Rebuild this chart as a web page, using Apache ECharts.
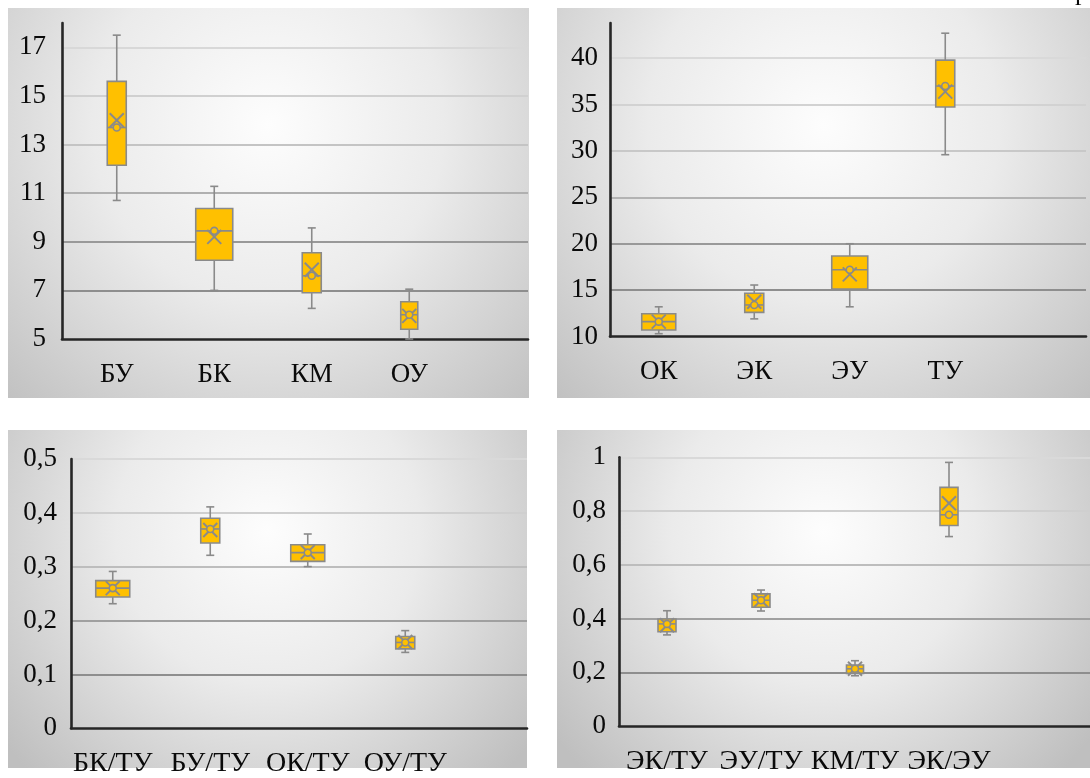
<!DOCTYPE html>
<html>
<head>
<meta charset="utf-8">
<script src="https://cdn.jsdelivr.net/npm/echarts@6/dist/echarts.min.js"></script>
<style>
  html, body { margin: 0; padding: 0; background: #ffffff; }
  #chart { width: 1090px; height: 778px; }
</style>
</head>
<body>
<div id="chart"></div>
<script>
// ---------------- DATA ----------------
// Panel 1 (top-left)
const p1Categories = ['БУ', 'БК', 'КМ', 'ОУ'];
const p1Min    = [10.7, 7.0, 6.26, 5.0];
const p1Q1     = [12.15, 8.24, 6.9, 5.4];
const p1Median = [13.7, 9.45, 7.6, 6.0];
const p1Q3     = [15.6, 10.37, 8.55, 6.53];
const p1Max    = [17.5, 11.28, 9.57, 7.05];
const p1Mean   = [14.0, 9.2, 7.85, 5.95];
const p1Ticks  = [5, 7, 9, 11, 13, 15, 17];

// Panel 2 (top-right)
const p2Categories = ['ОК', 'ЭК', 'ЭУ', 'ТУ'];
const p2Min    = [10.3, 11.9, 13.2, 29.6];
const p2Q1     = [10.7, 12.6, 15.12, 34.75];
const p2Median = [11.6, 13.4, 17.2, 37.0];
const p2Q3     = [12.45, 14.66, 18.68, 39.8];
const p2Max    = [13.2, 15.55, 20.0, 42.7];
const p2Mean   = [11.6, 13.75, 16.7, 36.4];
const p2Ticks  = [10, 15, 20, 25, 30, 35, 40];

// Panel 3 (bottom-left)
const p3Categories = ['БК/ТУ', 'БУ/ТУ', 'ОК/ТУ', 'ОУ/ТУ'];
const p3Min    = [0.231, 0.321, 0.300, 0.1405];
const p3Q1     = [0.2435, 0.344, 0.3097, 0.147];
const p3Median = [0.260, 0.370, 0.326, 0.159];
const p3Q3     = [0.274, 0.390, 0.3407, 0.170];
const p3Max    = [0.291, 0.411, 0.3606, 0.181];
const p3Mean   = [0.260, 0.368, 0.327, 0.160];
const p3Ticks  = [0, 0.1, 0.2, 0.3, 0.4, 0.5];

// Panel 4 (bottom-right)
const p4Categories = ['ЭК/ТУ', 'ЭУ/ТУ', 'КМ/ТУ', 'ЭК/ЭУ'];
const p4Min    = [0.339, 0.428, 0.187, 0.705];
const p4Q1     = [0.351, 0.442, 0.196, 0.746];
const p4Median = [0.380, 0.468, 0.213, 0.786];
const p4Q3     = [0.398, 0.4916, 0.227, 0.888];
const p4Max    = [0.429, 0.506, 0.243, 0.981];
const p4Mean   = [0.375, 0.468, 0.213, 0.829];
const p4Ticks  = [0, 0.2, 0.4, 0.6, 0.8, 1];

// ---------------- STYLE / LAYOUT ----------------
const FONT = 'Liberation Serif';
const TEXT = '#0a0a0a';
const GOLD = '#FFC000';
const EDGE = '#8a8a8a';
const AXIS = '#262626';

const panels = [
  { cats: p1Categories, min: p1Min, q1: p1Q1, med: p1Median, q3: p1Q3, max: p1Max, mean: p1Mean, ticks: p1Ticks,
    yMin: 5, yMax: 18,
    rect: [8, 8, 521, 390], axisLeft: 62, top: 23, bottom: 339, right: 528,
    bandLeft: 68, band: 97.5, boxW: [19, 37, 19, 17],
    yMargin: 16, xMargin: 22, xFont: 27,
    lineColors: ['#8e8e8e', '#999999', '#b0b0b0', '#c4c4c4', '#d0d0d0', '#d8d8d8'] },
  { cats: p2Categories, min: p2Min, q1: p2Q1, med: p2Median, q3: p2Q3, max: p2Max, mean: p2Mean, ticks: p2Ticks,
    yMin: 10, yMax: 43.8,
    rect: [557, 8, 533, 390], axisLeft: 610, top: 23, bottom: 336.5, right: 1086,
    bandLeft: 611, band: 95.5, boxW: [34, 19, 36, 19],
    yMargin: 12, xMargin: 22, xFont: 27,
    lineColors: ['#8e8e8e', '#999999', '#b3b3b3', '#c8c8c8', '#d2d2d2', '#d9d9d9'] },
  { cats: p3Categories, min: p3Min, q1: p3Q1, med: p3Median, q3: p3Q3, max: p3Max, mean: p3Mean, ticks: p3Ticks,
    yMin: 0, yMax: 0.5,
    rect: [8, 430, 519, 338], axisLeft: 71, top: 459, bottom: 728.3, right: 527,
    bandLeft: 64, band: 97.5, boxW: [34, 19, 34, 19],
    yMargin: 14, xMargin: 22, xFont: 28,
    lineColors: ['#8e8e8e', '#a0a0a0', '#bdbdbd', '#cfcfcf', '#d9d9d9'] },
  { cats: p4Categories, min: p4Min, q1: p4Q1, med: p4Median, q3: p4Q3, max: p4Max, mean: p4Mean, ticks: p4Ticks,
    yMin: 0, yMax: 1,
    rect: [557, 430, 533, 338], axisLeft: 619, top: 457.3, bottom: 726, right: 1090,
    bandLeft: 620, band: 94, boxW: [18, 18, 17, 18],
    yMargin: 13, xMargin: 22, xFont: 28,
    lineColors: ['#8e8e8e', '#a0a0a0', '#bdbdbd', '#cfcfcf', '#d9d9d9'] }
];

function fmt(v) { return String(v).replace('.', ','); }

function makeRenderItem(boxW) {
  return function (params, api) {
    const i = api.value(0);
    const pMin = api.coord([i, api.value(1)]);
    const x = pMin[0];
    const yMin = pMin[1];
    const yQ1 = api.coord([i, api.value(2)])[1];
    const yMed = api.coord([i, api.value(3)])[1];
    const yQ3 = api.coord([i, api.value(4)])[1];
    const yMax = api.coord([i, api.value(5)])[1];
    const yMean = api.coord([i, api.value(6)])[1];
    const w = boxW[i];
    const h = w / 2;
    const cap = 4;
    const xs = 7;
    const ls = { stroke: EDGE, lineWidth: 1.6 };
    return {
      type: 'group',
      children: [
        { type: 'line', shape: { x1: x, y1: yMax, x2: x, y2: yQ3 }, style: ls },
        { type: 'line', shape: { x1: x, y1: yQ1, x2: x, y2: yMin }, style: ls },
        { type: 'line', shape: { x1: x - cap, y1: yMax, x2: x + cap, y2: yMax }, style: ls },
        { type: 'line', shape: { x1: x - cap, y1: yMin, x2: x + cap, y2: yMin }, style: ls },
        { type: 'rect', shape: { x: x - h, y: yQ3, width: w, height: yQ1 - yQ3 },
          style: { fill: GOLD, stroke: EDGE, lineWidth: 1.6 } },
        { type: 'line', shape: { x1: x - h, y1: yMed, x2: x + h, y2: yMed }, style: ls },
        { type: 'line', shape: { x1: x - xs, y1: yMean - xs, x2: x + xs, y2: yMean + xs }, style: { stroke: EDGE, lineWidth: 2 } },
        { type: 'line', shape: { x1: x - xs, y1: yMean + xs, x2: x + xs, y2: yMean - xs }, style: { stroke: EDGE, lineWidth: 2 } },
        { type: 'circle', shape: { cx: x, cy: yMed, r: 3.5 }, style: { fill: GOLD, stroke: EDGE, lineWidth: 1.6 } }
      ]
    };
  };
}

const grid = [], xAxis = [], yAxis = [], series = [], graphic = [];

panels.forEach((p, k) => {
  const [rx, ry, rw, rh] = p.rect;
  graphic.push({
    type: 'rect', z: -100, silent: true,
    shape: { x: rx, y: ry, width: rw, height: rh },
    style: {
      fill: {
        type: 'radial', x: 0.5, y: 0.3, r: 1.0,
        colorStops: [
          { offset: 0, color: '#fdfdfd' },
          { offset: 0.45, color: '#ebebeb' },
          { offset: 1, color: '#bfbfbf' }
        ]
      }
    }
  });

  const h = p.bottom - p.top;
  grid.push({ left: p.axisLeft, top: p.top, width: p.right - p.axisLeft, height: h, containLabel: false });
  grid.push({ left: p.bandLeft, top: p.top, width: p.band * p.cats.length, height: h, containLabel: false });
  const gA = 2 * k, gB = 2 * k + 1;

  xAxis.push({
    gridIndex: gA, type: 'value', min: 0, max: 1,
    axisLine: { show: true, lineStyle: { color: AXIS, width: 2.6 } },
    axisTick: { show: false }, axisLabel: { show: false }, splitLine: { show: false }
  });
  xAxis.push({
    gridIndex: gB, type: 'category', data: p.cats, boundaryGap: true,
    axisLine: { show: false }, axisTick: { show: false }, splitLine: { show: false },
    axisLabel: { interval: 0, margin: p.xMargin, fontFamily: FONT, fontSize: p.xFont, color: TEXT }
  });
  yAxis.push({
    gridIndex: gA, type: 'value', min: p.yMin, max: p.yMax,
    axisLine: { show: true, lineStyle: { color: AXIS, width: 2.6 } },
    axisTick: { show: false, customValues: p.ticks },
    axisLabel: { customValues: p.ticks, formatter: fmt, margin: p.yMargin, fontFamily: FONT, fontSize: 27, color: TEXT },
    splitLine: { show: true, showMinLine: false, lineStyle: { color: p.lineColors, width: 1.8 } }
  });
  yAxis.push({
    gridIndex: gB, type: 'value', min: p.yMin, max: p.yMax, show: false,
    splitLine: { show: false }
  });

  const data = p.cats.map((c, i) => [i, p.min[i], p.q1[i], p.med[i], p.q3[i], p.max[i], p.mean[i]]);
  series.push({
    type: 'custom', xAxisIndex: gB, yAxisIndex: gB,
    renderItem: makeRenderItem(p.boxW),
    encode: { x: 0, y: [1, 2, 3, 4, 5, 6] },
    data: data, z: 5
  });
});

// cut-off caption fragment at top-right
graphic.push({
  type: 'text', x: 1088, y: -6.5, silent: true,
  style: { text: '. р', font: '26px "Liberation Serif"', fill: TEXT, align: 'right', verticalAlign: 'middle' }
});

const chart = echarts.init(document.getElementById('chart'), null, { renderer: 'canvas' });
chart.setOption({
  animation: false,
  backgroundColor: '#ffffff',
  grid, xAxis, yAxis, series, graphic
});
</script>
</body>
</html>
